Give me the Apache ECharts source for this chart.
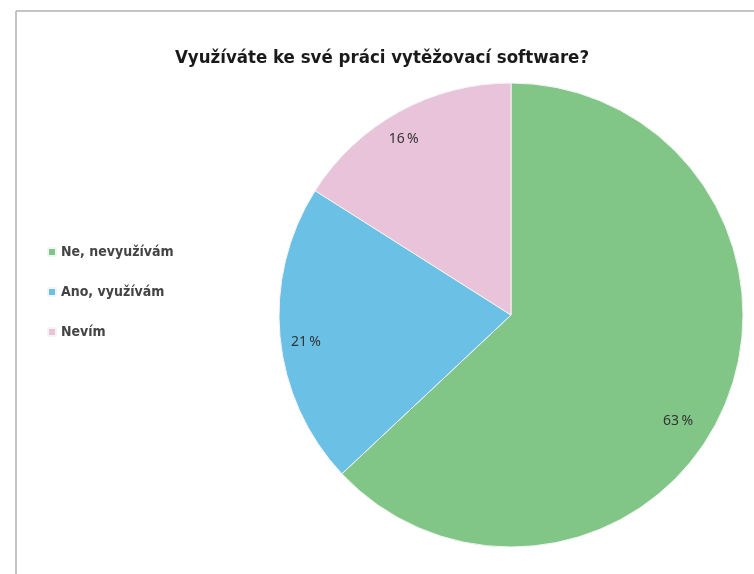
<!DOCTYPE html>
<html>
<head>
<meta charset="utf-8">
<script src="https://cdn.jsdelivr.net/npm/echarts@6/dist/echarts.min.js"></script>
<style>
html,body{margin:0;padding:0;background:#fff;}
#c{width:754px;height:574px;}
</style>
</head>
<body>
<div id="c"></div>
<script>
var titleText = 'Využíváte ke své práci vytěžovací software?';
var categories = ['Ne, nevyužívám', 'Ano, využívám', 'Nevím'];
var values = [63, 21, 16];
var colors = ['#82c687', '#6bc0e5', '#e8c3d9'];
var labelOffsets = [[-22, 24], [0, 8], [-8, 5]];

var chart = echarts.init(document.getElementById('c'));

var pieData = categories.map(function (c, i) {
  return { name: c, value: values[i], itemStyle: { color: colors[i] } };
});
var labelData = categories.map(function (c, i) {
  return {
    name: c, value: values[i],
    label: { offset: labelOffsets[i] }
  };
});

chart.setOption({
  backgroundColor: '#fff',
  animation: false,
  title: {
    text: titleText,
    left: 377,
    top: 44,
    textAlign: 'center',
    textStyle: {
      fontFamily: '"DejaVu Sans Condensed", sans-serif',
      fontWeight: 'bold',
      fontSize: 18.5,
      color: '#1a1a1a'
    }
  },
  legend: {
    orient: 'vertical',
    left: 42,
    top: 240,
    icon: 'rect',
    itemWidth: 8,
    itemHeight: 8,
    itemGap: 26,
    data: categories,
    selectedMode: false,
    textStyle: {
      fontFamily: '"DejaVu Sans Condensed", sans-serif',
      fontWeight: 'bold',
      fontSize: 14,
      color: '#444'
    }
  },
  graphic: [
    { type: 'line', shape: { x1: 16, y1: 11, x2: 754, y2: 11 }, style: { stroke: '#b0b0b0', lineWidth: 1.5 }, silent: true },
    { type: 'line', shape: { x1: 16, y1: 11, x2: 16, y2: 574 }, style: { stroke: '#b0b0b0', lineWidth: 1.5 }, silent: true }
  ],
  series: [
    {
      type: 'pie',
      center: [511, 315],
      radius: [0, 232],
      startAngle: 90,
      clockwise: true,
      silent: true,
      label: { show: false },
      labelLine: { show: false },
      itemStyle: { borderColor: '#f4f4f4', borderWidth: 1 },
      data: pieData
    },
    {
      type: 'pie',
      center: [511, 315],
      radius: [174, 232],
      startAngle: 90,
      clockwise: true,
      silent: true,
      legendHoverLink: false,
      itemStyle: { color: 'rgba(0,0,0,0)' },
      label: {
        show: true,
        position: 'inside',
        formatter: function (p) { return p.value + '\u2009%'; },
        fontFamily: '"Noto Sans", "Open Sans", sans-serif',
        fontSize: 14,
        color: '#333'
      },
      labelLine: { show: false },
      data: labelData
    }
  ]
});
</script>
</body>
</html>
